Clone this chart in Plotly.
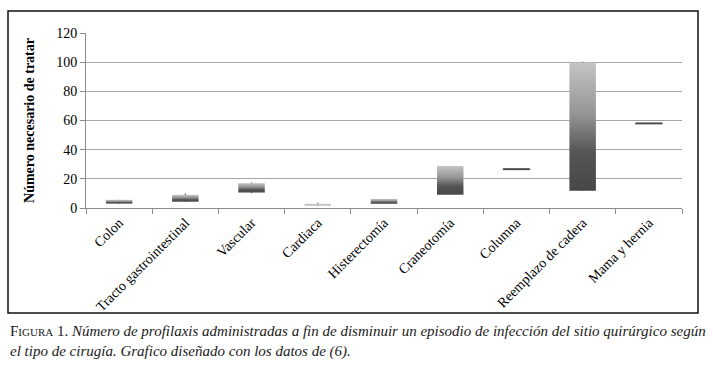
import plotly.graph_objects as go

categories = ["Colon", "Tracto gastrointestinal", "Vascular", "Cardiaca", "Histerectomía",
              "Craneotomía", "Columna", "Reemplazo de cadera", "Mama y hernia"]
low = [3.0, 4.3, 10.6, 1.6, 2.9, 9.1, 26.3, 11.8, 57.7]
high = [5.6, 9.0, 17.0, 2.9, 6.2, 28.8, 26.9, 99.8, 58.3]
whisk_low = [3.0, 4.3, 10.2, 1.6, 2.9, 9.1, 26.3, 11.8, 57.7]
whisk_high = [5.6, 9.9, 17.5, 3.6, 6.2, 28.8, 26.9, 100.3, 58.3]
y_ticks = [0, 20, 40, 60, 80, 100, 120]

W, H = 713, 367
L, R, T, B = 86, 31, 33, 159
pw, ph = W - L - R, H - T - B

def px(x):
    return (x - L) / pw

def py(y):
    return (H - B - y) / ph

dark_scale = [[0, "#474747"], [0.3, "#555555"], [0.6, "#959595"], [1, "#c4c4c4"]]
light_scale = [[0, "#b5b5b5"], [1, "#cfcfcf"]]

fig = go.Figure()
bw = 0.2
for i, cat in enumerate(categories):
    lo, hi = low[i], high[i]
    xs = [i - bw, i + bw, i + bw, i - bw, i - bw]
    ys = [lo, lo, hi, hi, lo]
    fig.add_trace(go.Scatter(x=[i, i], y=[whisk_low[i], whisk_high[i]], mode="lines",
                             line=dict(color="#333333", width=1), hoverinfo="skip", showlegend=False))
    thin = hi - lo < 1
    scale = light_scale if cat == "Cardiaca" else dark_scale
    if thin:
        fig.add_trace(go.Scatter(x=xs, y=ys, mode="lines", fill="toself", fillcolor="#444444",
                                 line=dict(color="#444444", width=1), name=cat, showlegend=False))
    else:
        fig.add_trace(go.Scatter(x=xs, y=ys, mode="lines", fill="toself",
                                 fillgradient=dict(type="vertical", colorscale=scale),
                                 line=dict(width=0), name=cat, showlegend=False))

serif = "Liberation Serif, Times New Roman, serif"
fig.update_layout(
    width=W, height=H,
    margin=dict(l=L, r=R, t=T, b=B),
    paper_bgcolor="white", plot_bgcolor="white",
    font=dict(family=serif, color="#000000", size=14),
    xaxis=dict(range=[-0.5, len(categories) - 0.5], tickmode="array",
               tickvals=list(range(len(categories))), ticktext=categories,
               tickangle=-45, ticks="", showgrid=False, zeroline=False,
               showline=True, linecolor="#8c8c8c", linewidth=1, automargin=False,
               tickfont=dict(family=serif, size=14),
               minor=dict(tickmode="array", tickvals=[k - 0.5 for k in range(len(categories) + 1)],
                          ticks="outside", ticklen=5, tickcolor="#8c8c8c", showgrid=False)),
    yaxis=dict(range=[0, 120], tickmode="array", tickvals=y_ticks,
               showgrid=True, gridcolor="#a6a6a6", gridwidth=1, zeroline=False,
               showline=True, linecolor="#8c8c8c", linewidth=1, automargin=False,
               ticks="outside", ticklen=5, tickcolor="#8c8c8c",
               tickfont=dict(family=serif, size=14),
               title=dict(text="<b>Número necesario de tratar</b>", standoff=18,
                          font=dict(family=serif, size=14))),
    shapes=[dict(type="rect", xref="paper", yref="paper",
                 x0=px(8), x1=px(698), y0=py(313), y1=py(11),
                 line=dict(color="#111111", width=1.5), fillcolor="rgba(0,0,0,0)", layer="below")],
    annotations=[dict(xref="paper", yref="paper", x=px(8), y=py(321), xanchor="left", yanchor="top",
                      align="left", showarrow=False,
                      font=dict(family=serif, size=15, color="#1a1a1a"),
                      text="F<span style='font-size:11px'>IGURA</span> 1. <i>Número de profilaxis administradas a fin de disminuir un episodio de infección del sitio quirúrgico según</i><br><i>el tipo de cirugía. Grafico diseñado con los datos de (6).</i>")],
)

fig.write_html("out.html", config={"displayModeBar": False},
               post_script="document.body.style.margin='0';")
